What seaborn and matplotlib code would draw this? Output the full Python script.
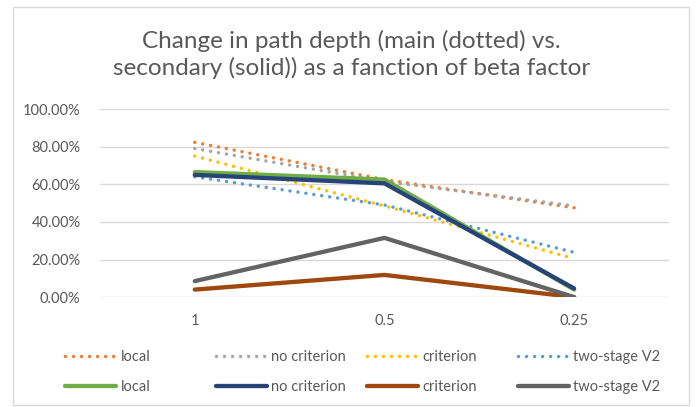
import matplotlib
matplotlib.use("Agg")
import matplotlib.pyplot as plt
import seaborn as sns
import pandas as pd
from matplotlib.lines import Line2D
from matplotlib.patches import Rectangle
from matplotlib.ticker import PercentFormatter

# ---- data -----------------------------------------------------------
beta = ["1", "0.5", "0.25"]
series_names = ["local", "no criterion", "criterion", "two-stage V2"]

# main path depth (dotted)
main_local = [0.823, 0.625, 0.475]
main_no_criterion = [0.790, 0.615, 0.485]
main_criterion = [0.750, 0.485, 0.205]
main_two_stage = [0.640, 0.490, 0.238]

# secondary path depth (solid)
sec_local = [0.665, 0.625, 0.040]
sec_no_criterion = [0.650, 0.605, 0.046]
sec_criterion = [0.040, 0.118, 0.000]
sec_two_stage = [0.085, 0.315, 0.000]

main_colors = ["#ED7D31", "#A5A5A5", "#FFC000", "#5B9BD5"]
sec_colors = ["#70AD47", "#264478", "#9E480E", "#636363"]

main_values = [main_local, main_no_criterion, main_criterion, main_two_stage]
sec_values = [sec_local, sec_no_criterion, sec_criterion, sec_two_stage]

rows = []
for name, vals in zip(series_names, main_values):
    for b, v in zip(beta, vals):
        rows.append({"beta": b, "value": v, "series": name, "kind": "main"})
for name, vals in zip(series_names, sec_values):
    for b, v in zip(beta, vals):
        rows.append({"beta": b, "value": v, "series": name, "kind": "secondary"})
df = pd.DataFrame(rows)

# ---- style ----------------------------------------------------------
sns.set_style("white")
plt.rcParams["font.family"] = ["Lato", "DejaVu Sans"]
text_color = "#595959"

fig = plt.figure(figsize=(6.99, 4.07), dpi=100)
ax = fig.add_axes([0.143, 0.270, 0.814, 0.462])

dot_lw = 2.5
sec_lw = 3.1
dot_style = (0, (0.01, 2.3))
for name, color in zip(series_names, main_colors):
    d = df[(df["kind"] == "main") & (df["series"] == name)]
    sns.lineplot(data=d, x="beta", y="value", ax=ax, color=color, sort=False,
                 linewidth=dot_lw, linestyle=dot_style, dash_capstyle="round",
                 legend=False)
for name, color in zip(series_names, sec_colors):
    d = df[(df["kind"] == "secondary") & (df["series"] == name)]
    sns.lineplot(data=d, x="beta", y="value", ax=ax, color=color, sort=False,
                 linewidth=sec_lw, solid_capstyle="round", legend=False)

ax.set_xlim(-0.5, 2.5)
ax.set_ylim(0, 1.0)
ax.set_yticks([0, 0.2, 0.4, 0.6, 0.8, 1.0])
ax.yaxis.set_major_formatter(PercentFormatter(1.0, decimals=2))
ax.grid(axis="y", color="#D9D9D9", linewidth=1.0)
ax.set_axisbelow(True)
for s in ax.spines.values():
    s.set_visible(False)
ax.set_xlabel("")
ax.set_ylabel("")
ax.tick_params(axis="both", length=0, labelsize=10.5, labelcolor=text_color)
ax.tick_params(axis="y", pad=14)
ax.tick_params(axis="x", pad=12)

fig.text(0.503, 0.866,
         "Change in path depth (main (dotted) vs.\nsecondary (solid)) as a fanction of beta factor",
         ha="center", va="center", fontsize=17.5, color=text_color, linespacing=1.25)

# legend: one small legend per column, dotted on top, solid below
col_x = [65, 216, 367, 518]
for i, name in enumerate(series_names):
    h = [Line2D([], [], color=main_colors[i], linewidth=dot_lw,
                linestyle=dot_style, dash_capstyle="round", label=name),
         Line2D([], [], color=sec_colors[i], linewidth=sec_lw, label=name)]
    leg = fig.legend(handles=h, ncol=1, loc="center left",
                     bbox_to_anchor=(col_x[i] / 699, 1 - 372 / 407),
                     frameon=False, fontsize=10.5, labelcolor=text_color,
                     handlelength=3.5, handletextpad=0.3, labelspacing=1.05,
                     borderpad=0.0, borderaxespad=0.0)

fig.add_artist(Rectangle((13 / 699, 2 / 407), 676 / 699, 398 / 407,
                         transform=fig.transFigure, fill=False,
                         edgecolor="#D9D9D9", linewidth=1.0))

fig.savefig("out.png", dpi=100)
